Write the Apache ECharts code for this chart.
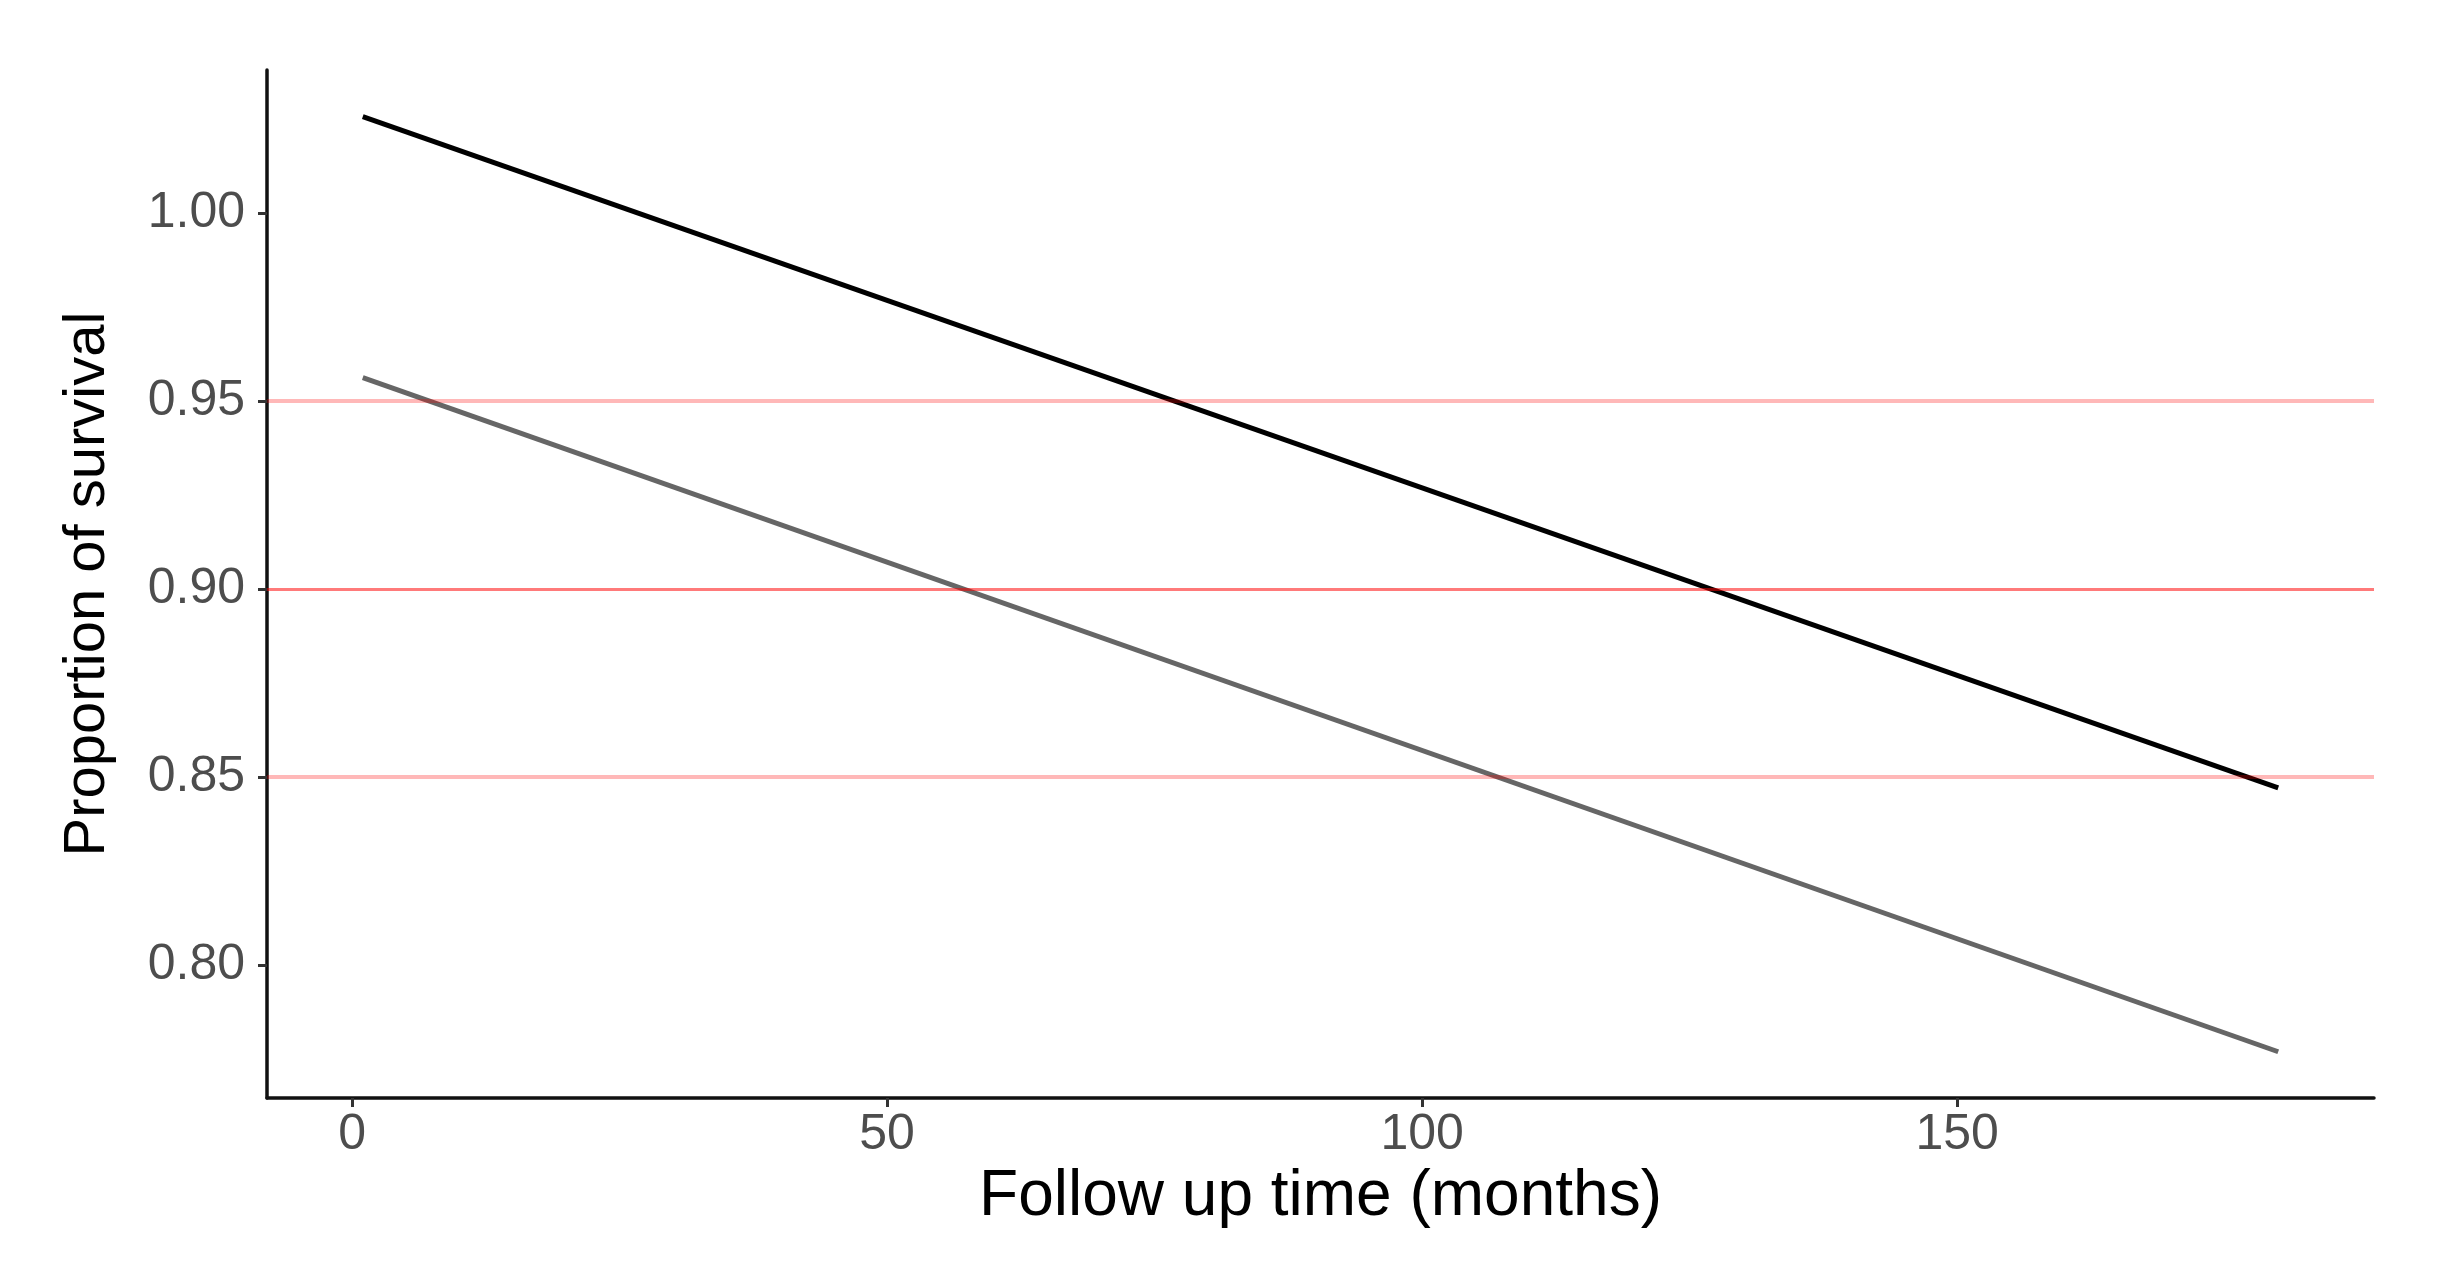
<!DOCTYPE html>
<html>
<head>
<meta charset="utf-8">
<title>Proportion of survival</title>
<script src="https://cdn.jsdelivr.net/npm/echarts@6/dist/echarts.min.js"></script>
<style>
  html, body { margin: 0; padding: 0; background: #fff; }
  #chart { width: 2438px; height: 1265px; }
</style>
</head>
<body>
<div id="chart"></div>
<script>
// follow up time (months) at the ends of each fitted line
var followUp = [1, 180];
// upper (black) and lower (grey) survival lines
var upperSurvival = [1.0256, 0.8471];
var lowerSurvival = [0.9562, 0.7769];
// horizontal reference lines
var refLevels = [0.85, 0.90, 0.95];
var xTicks = [0, 50, 100, 150];
var yTicks = [0.80, 0.85, 0.90, 0.95, 1.00];

function pairs(xs, ys) {
  return xs.map(function (x, i) { return [x, ys[i]]; });
}

var font = 'Liberation Sans, Arial, Helvetica, sans-serif';
var chart = echarts.init(document.getElementById('chart'));

var option = {
  animation: false,
  backgroundColor: '#ffffff',
  grid: { left: 267, right: 64, top: 70, bottom: 167, containLabel: false },
  xAxis: {
    type: 'value',
    min: -7.95,
    max: 188.95,
    name: 'Follow up time (months)',
    nameLocation: 'middle',
    nameGap: 62,
    nameTextStyle: { fontFamily: font, fontSize: 64, color: '#000' },
    axisLine: { show: true, onZero: false, lineStyle: { color: '#111', width: 3.5 } },
    axisTick: { show: true, length: 9, lineStyle: { color: '#333', width: 3 }, customValues: xTicks },
    axisLabel: { margin: 12, fontFamily: font, fontSize: 50, color: '#4d4d4d', customValues: xTicks },
    splitLine: { show: false }
  },
  yAxis: {
    type: 'value',
    min: 0.7646,
    max: 1.038,
    name: 'Proportion of survival',
    nameLocation: 'middle',
    nameGap: 150,
    nameTextStyle: { fontFamily: font, fontSize: 58, color: '#000' },
    axisLine: { show: true, onZero: false, lineStyle: { color: '#111', width: 3.5 } },
    axisTick: { show: true, length: 9, lineStyle: { color: '#333', width: 3 }, customValues: yTicks },
    axisLabel: {
      margin: 22, fontFamily: font, fontSize: 50, color: '#4d4d4d', customValues: yTicks,
      formatter: function (v) { return v.toFixed(2); }
    },
    splitLine: { show: false }
  },
  series: [
    {
      type: 'line',
      data: pairs(followUp, upperSurvival),
      showSymbol: false,
      lineStyle: { color: '#000', width: 5 }
    },
    {
      type: 'line',
      data: pairs(followUp, lowerSurvival),
      showSymbol: false,
      lineStyle: { color: '#666', width: 5 }
    },
    {
      // reference lines drawn on top of the curves
      type: 'line',
      data: [],
      markLine: {
        silent: true,
        symbol: ['none', 'none'],
        label: { show: false },
        data: refLevels.map(function (v) {
          return {
            yAxis: v,
            lineStyle: {
              type: 'solid',
              width: v === 0.90 ? 3 : 4,
              color: v === 0.90 ? 'rgba(255,0,0,0.52)' : 'rgba(255,0,0,0.28)'
            }
          };
        })
      }
    }
  ]
};

chart.setOption(option);
</script>
</body>
</html>
